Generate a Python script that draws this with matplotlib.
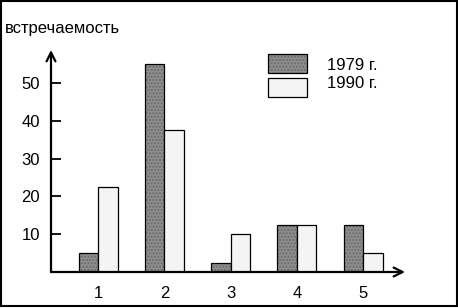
import matplotlib.pyplot as plt
import numpy as np
from matplotlib.patches import Rectangle

categories = ["1", "2", "3", "4", "5"]
values_1979 = [5, 55, 2.5, 12.5, 12.5]
values_1990 = [22.5, 37.5, 10, 12.5, 5]
series_names = ["1979 г.", "1990 г."]
y_ticks = [10, 20, 30, 40, 50]
y_label = "встречаемость"

plt.rcParams["font.family"] = ["Liberation Sans", "DejaVu Sans"]

W, H = 458, 308
fig = plt.figure(figsize=(W / 100, H / 100), dpi=100)
ax = fig.add_axes([51 / W, 36 / H, (405 - 51) / W, (272 - 50) / H])

x = np.arange(1, len(categories) + 1)
bw = 0.294
dark = "#8e8e8e"
dots = "#6a6a6a"
light = "#f4f4f4"
fs = 12

# dark bars with dotted texture, then outline
ax.bar(x - bw / 2, values_1979, bw, color=dark, edgecolor=dots,
       hatch=".....", linewidth=0, zorder=2)
ax.bar(x - bw / 2, values_1979, bw, fill=False, edgecolor="black",
       linewidth=0.9, zorder=3)
ax.bar(x + bw / 2, values_1990, bw, color=light, edgecolor="black",
       linewidth=0.9, zorder=3)

ax.set_xlim(0.29, 5.63)
ax.set_ylim(0, 58.7)

for s in ax.spines.values():
    s.set_visible(False)

# axes with arrows
for end in [(1, 0), (0, 1)]:
    ax.annotate("", xy=end, xytext=(0, 0), xycoords="axes fraction",
                arrowprops=dict(arrowstyle="->", lw=1.6, color="black",
                                mutation_scale=16, shrinkA=0, shrinkB=0),
                zorder=4)

ax.set_yticks(y_ticks)
ax.set_yticklabels([str(t) for t in y_ticks])
ax.tick_params(axis="y", direction="in", length=7, width=1.3,
               labelsize=fs, pad=8)
ax.set_xticks(x)
ax.set_xticklabels(categories)
ax.tick_params(axis="x", length=0, labelsize=fs, pad=10)

fig.text(5 / W, 1 - 28 / H, y_label, fontsize=fs, ha="left", va="center")

# legend drawn by hand
colors = [dark, light]
for i, (name, c) in enumerate(zip(series_names, colors)):
    top = 54 + i * 24
    pos = (268 / W, 1 - (top + 18.5) / H)
    size = (39 / W, 18.5 / H)
    if i == 0:
        fig.add_artist(Rectangle(pos, *size, transform=fig.transFigure,
                                 facecolor=c, edgecolor=dots, linewidth=0,
                                 hatch="....."))
        fig.add_artist(Rectangle(pos, *size, transform=fig.transFigure,
                                 fill=False, edgecolor="black", linewidth=0.9))
    else:
        fig.add_artist(Rectangle(pos, *size, transform=fig.transFigure,
                                 facecolor=c, edgecolor="black", linewidth=0.9))
    fig.text(327 / W, 1 - (65.5 + i * 18) / H, name, fontsize=fs,
             ha="left", va="center")

# figure border
fig.add_artist(Rectangle((1 / W, 2 / H), (457 - 1) / W, (307.5 - 2) / H,
                         transform=fig.transFigure, fill=False,
                         edgecolor="black", linewidth=1.5))

fig.savefig("out.png", dpi=100)
